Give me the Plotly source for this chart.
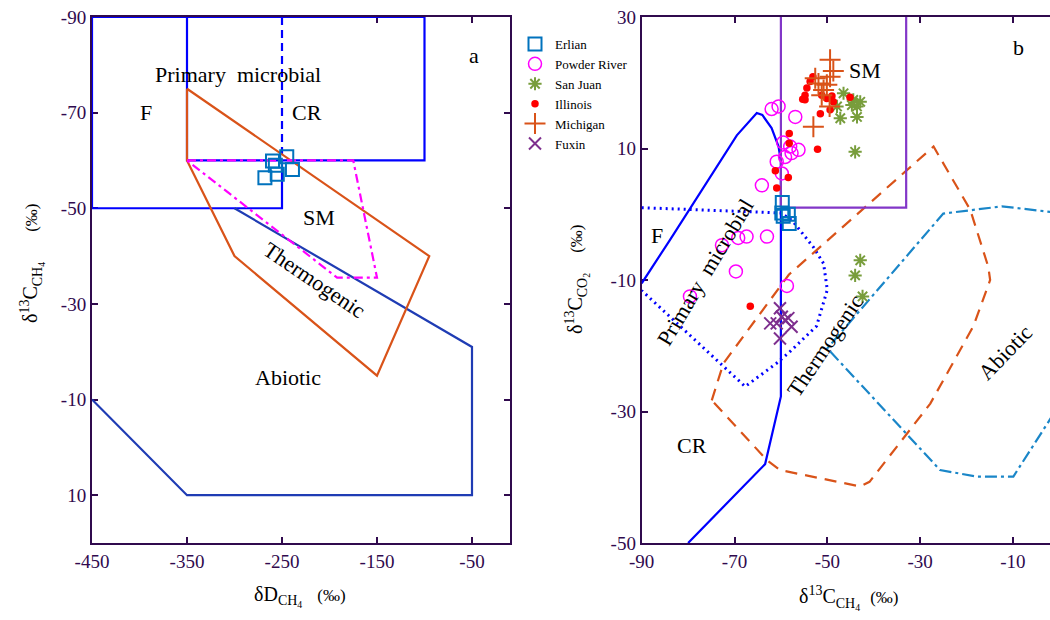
import plotly.graph_objects as go

FONT = "Liberation Serif"
AX = "#300a4e"

# ---------------- Panel a data (dD_CH4 vs d13C_CH4) ----------------
erlian_a_dD = [-260, -245, -239, -268, -255, -257]
erlian_a_d13C = [-59.9, -60.8, -58.1, -56.4, -57.1, -59.0]

# field boundaries, panel a
micro_box_x = [-250, -250, -450, -450, -100, -100, -350, -350]
micro_box_y = [-60, -50, -50, -90, -90, -60, -60, -90]
split_x = [-250, -250]
split_y = [-90, -60]
abiotic_a_x = [-300, -50, -50, -350, -450]
abiotic_a_y = [-50, -21, 10, 10, -10]
thermo_a_x = [-350, -350, -300, -150, -95, -350]
thermo_a_y = [-75, -60, -40, -15, -40, -75]
sm_a_x = [-350, -175, -150, -192, -350]
sm_a_y = [-60, -60, -35.5, -35.5, -60]

ticks_a_x = [-450, -350, -250, -150, -50]
ticks_a_y = [-90, -70, -50, -30, -10, 10]

# ---------------- Panel b data (d13C_CH4 vs d13C_CO2) ----------------
erlian_x = [-59.7, -59.8, -58.4, -58.2, -59.5]
erlian_y = [1.8, 0.2, 0.0, -1.4, -0.3]
powder_x = [-62.0, -60.5, -56.9, -59.5, -58.0, -56.2, -57.7, -60.9, -59.1, -59.8,
            -64.1, -63.0, -67.4, -69.2, -72.7, -69.7, -58.7, -79.6]
powder_y = [16.0, 16.4, 14.8, 10.9, 10.3, 9.8, 9.3, 8.0, 8.7, 6.2,
            4.4, -3.4, -3.4, -3.6, -4.7, -8.7, -10.9, -12.5]
sanjuan_x = [-46.5, -47.9, -47.2, -44.4, -42.9, -43.6, -44.7, -43.6, -44.0, -42.9, -44.0, -42.4]
sanjuan_y = [18.4, 16.4, 14.6, 17.4, 17.1, 16.4, 16.6, 14.8, 9.5, -7.0, -9.3, -12.5]
illinois_x = [-53.1, -53.7, -54.4, -54.8, -55.3, -54.8, -51.2, -50.1, -49.0, -48.7,
              -49.4, -45.1, -51.5, -58.2, -58.2, -52.1, -61.2, -58.4, -60.9, -66.6]
illinois_y = [20.9, 20.2, 19.2, 18.1, 17.5, 17.4, 18.1, 17.6, 18.0, 17.1,
              15.9, 17.8, 15.3, 12.3, 10.8, 9.9, 6.6, 5.6, 4.0, -14.0]
michigan_x = [-49.4, -48.7, -49.4, -52.6, -51.9, -50.8, -51.2, -49.5, -53.0, -50.1]
michigan_y = [23.5, 21.8, 20.9, 20.7, 19.9, 18.9, 18.1, 16.4, 13.3, 19.7]
fuxin_x = [-60.2, -59.8, -58.4, -62.3, -60.9, -57.7, -60.2, -59.1]
fuxin_y = [-14.3, -15.6, -15.8, -16.6, -16.6, -17.1, -18.9, -16.1]

# field boundaries, panel b
fcr_x = [-90, -84, -69.5, -65.2, -64, -62, -60.5, -60, -60, -63.4, -80]
fcr_y = [-10.5, -4, 12, 15.4, 15.1, 13.1, 10.3, 8, -27.7, -38, -50]
micro_b_x = [-90, -60, -57.5, -53, -50.8, -50, -52.3, -55.2, -58.2, -61, -67.7, -90]
micro_b_y = [1, 0.2, -1, -5, -7.5, -11.5, -17, -19, -21, -22.7, -26.2, -11.6]
thermo_b_x = [-74.9, -72.4, -58.3, -27.1, -19.2, -15.3, -14.9, -18.5, -27.8, -40.9, -42.9, -60.2, -63, -74.9]
thermo_b_y = [-28.3, -22.7, -9.2, 10.3, 0.7, -8, -10, -17, -28.8, -40.7, -41.4, -38.9, -37.4, -28.3]
abiotic_b_x = [0, -12.4, -25, -50, -25.7, -17.8, -9.9, 0]
abiotic_b_y = [0.2, 1.2, 0.1, -20.4, -38.9, -39.9, -39.9, -29]
sm_b_x = [-60, -60, -33, -33]
sm_b_y = [30, 1, 1, 30]

ticks_b_x = [-90, -70, -50, -30, -10]
ticks_b_y = [-50, -30, -10, 10, 30]

fig = go.Figure()

def line(x, y, color, dash="solid", width=2.2, xa="x", ya="y"):
    fig.add_trace(go.Scatter(x=x, y=y, mode="lines", xaxis=xa, yaxis=ya,
                             line=dict(color=color, width=width, dash=dash),
                             showlegend=False, hoverinfo="skip"))

# panel a
line(micro_box_x, micro_box_y, "#0000ff")
line(split_x, split_y, "#0000ff", dash="8px,5px")
line(abiotic_a_x, abiotic_a_y, "#1f3cb4")
line(thermo_a_x, thermo_a_y, "#d95319")
line(sm_a_x, sm_a_y, "#ff00ff", dash="9px,4px,3px,4px")
fig.add_trace(go.Scatter(x=erlian_a_dD, y=erlian_a_d13C, mode="markers", xaxis="x", yaxis="y",
                         marker=dict(symbol="square-open", size=13, color="#0072bd", line=dict(width=2)),
                         showlegend=False, hoverinfo="skip"))

# panel b
line(fcr_x, fcr_y, "#0000ff", xa="x2", ya="y2")
line(micro_b_x, micro_b_y, "#0000ff", dash="2px,4px", width=3, xa="x2", ya="y2")
line(thermo_b_x, thermo_b_y, "#d95319", dash="12px,8px", xa="x2", ya="y2")
line(abiotic_b_x, abiotic_b_y, "#1a86c8", dash="12px,4px,3px,4px", xa="x2", ya="y2")
line(sm_b_x, sm_b_y, "#8236c8", xa="x2", ya="y2")

def pts(x, y, name, symbol, size, color, lw=2):
    fig.add_trace(go.Scatter(x=x, y=y, mode="markers", name=name, xaxis="x2", yaxis="y2",
                             marker=dict(symbol=symbol, size=size, color=color,
                                         line=dict(width=lw, color=color)),
                             hoverinfo="skip"))

pts(erlian_x, erlian_y, "Erlian", "square-open", 13, "#0072bd")
pts(powder_x, powder_y, "Powder River", "circle-open", 13, "#ff00ff", 1.5)
pts(sanjuan_x, sanjuan_y, "San Juan", "asterisk-open", 11, "#789d3c", 2)
pts(illinois_x, illinois_y, "Illinois", "circle", 7.5, "#ff0000", 0)
pts(michigan_x, michigan_y, "Michigan", "cross-thin-open", 15, "#d95319", 2)
pts(fuxin_x, fuxin_y, "Fuxin", "x-thin-open", 12, "#7e2f8e", 2)

W, H = 1050, 620
def px(v): return v / W
def py(v): return 1 - v / H

axis_common = dict(showline=True, linecolor=AX, linewidth=2, ticks="inside", ticklen=6,
                   tickwidth=2, tickcolor=AX, showgrid=False, zeroline=False, automargin=False,
                   tickfont=dict(family=FONT, size=19, color=AX), layer="below traces")

def tt(vals):
    return [str(v) for v in vals]

fig.update_layout(
    width=W, height=H, margin=dict(l=0, r=0, t=0, b=0, autoexpand=False),
    paper_bgcolor="white", plot_bgcolor="white",
    xaxis=dict(domain=[px(92), px(510)], range=[-450, -10], tickvals=ticks_a_x, ticktext=tt(ticks_a_x),
               mirror="ticks", anchor="y", **axis_common),
    yaxis=dict(domain=[py(543), py(17)], range=[20, -90], tickvals=ticks_a_y, ticktext=tt(ticks_a_y),
               mirror="ticks", anchor="x", **axis_common),
    xaxis2=dict(domain=[px(641.7), 1.0], range=[-90, -2], tickvals=ticks_b_x, ticktext=tt(ticks_b_x),
                mirror="ticks", anchor="y2", **axis_common),
    yaxis2=dict(domain=[py(543), py(17)], range=[-50, 30], tickvals=ticks_b_y, ticktext=tt(ticks_b_y),
                mirror=False, anchor="x2", **axis_common),
    legend=dict(x=px(515), y=py(29), xanchor="left", yanchor="top", bgcolor="rgba(0,0,0,0)",
                font=dict(family=FONT, size=13, color="black"), itemwidth=30),
    font=dict(family=FONT),
)

lab = dict(showarrow=False, font=dict(family=FONT, size=22, color="black"),
           xanchor="center", yanchor="middle")
anns = [
    dict(x=-296, y=-78, xref="x", yref="y", text="Primary  microbial"),
    dict(x=-393, y=-70, xref="x", yref="y", text="F"),
    dict(x=-224, y=-70, xref="x", yref="y", text="CR"),
    dict(x=-48, y=-82, xref="x", yref="y", text="a"),
    dict(x=-211, y=-48, xref="x", yref="y", text="SM"),
    dict(x=-215, y=-35, xref="x", yref="y", text="Thermogenic", textangle=34),
    dict(x=-244, y=-14.7, xref="x", yref="y", text="Abiotic"),
    dict(x=-41.8, y=21.8, xref="x2", yref="y2", text="SM"),
    dict(x=-8.8, y=25.3, xref="x2", yref="y2", text="b"),
    dict(x=-86.7, y=-3.2, xref="x2", yref="y2", text="F"),
    dict(x=-76.4, y=-8.8, xref="x2", yref="y2", text="Primary  microbial", textangle=-59),
    dict(x=-50.5, y=-19.9, xref="x2", yref="y2", text="Thermogenic", textangle=-56),
    dict(x=-11.7, y=-21, xref="x2", yref="y2", text="Abiotic", textangle=-46),
    dict(x=-79.2, y=-35.1, xref="x2", yref="y2", text="CR"),
]
for a in anns:
    d = dict(lab); d.update(a); fig.add_annotation(**d)

title_font = dict(family=FONT, size=20, color="black")
pm = '<span style="font-size:17px">(‰)</span>'
fig.add_annotation(x=px(300), y=py(596), xref="paper", yref="paper", showarrow=False,
                   text="δD<sub>CH<sub>4</sub></sub>   " + pm, font=title_font,
                   xanchor="center", yanchor="middle")
fig.add_annotation(x=px(848), y=py(598), xref="paper", yref="paper", showarrow=False,
                   text="δ<sup>13</sup>C<sub>CH<sub>4</sub></sub>  " + pm, font=title_font,
                   xanchor="center", yanchor="middle")
fig.add_annotation(x=px(32), y=py(264), xref="paper", yref="paper", showarrow=False,
                   text="δ<sup>13</sup>C<sub>CH<sub>4</sub></sub>      " + pm, font=title_font,
                   textangle=-90, xanchor="center", yanchor="middle")
fig.add_annotation(x=px(577), y=py(280), xref="paper", yref="paper", showarrow=False,
                   text="δ<sup>13</sup>C<sub>CO<sub>2</sub></sub>    " + pm, font=title_font,
                   textangle=-90, xanchor="center", yanchor="middle")

fig.write_html("out.html", config={"displayModeBar": False},
               post_script="document.body.style.margin='0';document.body.style.overflow='hidden';")
